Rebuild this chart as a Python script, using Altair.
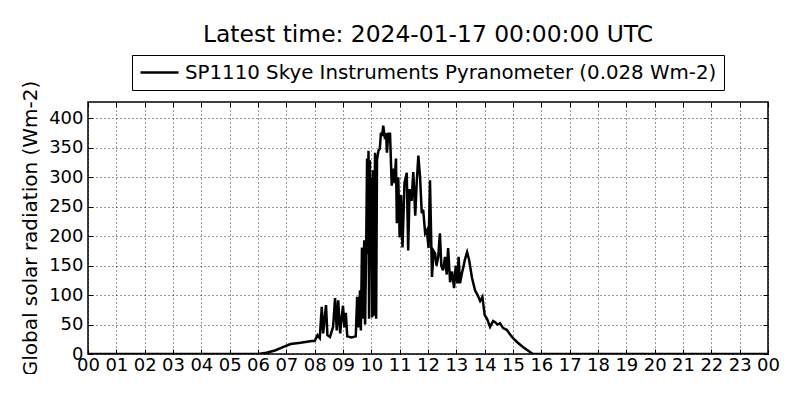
import altair as alt
import pandas as pd

hours = [0.0, 6.0, 6.3, 6.6, 6.9, 7.15, 7.5, 7.9, 8.0, 8.1, 8.18, 8.25, 8.3, 8.4, 8.45,
         8.54, 8.65, 8.72, 8.78, 8.83, 8.9, 8.95, 9.0, 9.05, 9.1, 9.15, 9.3, 9.45, 9.5,
         9.55, 9.6, 9.63, 9.67, 9.7, 9.75, 9.78, 9.82, 9.85, 9.87, 9.9, 9.92, 9.95, 9.98,
         10.0, 10.03, 10.06, 10.1, 10.13, 10.17, 10.2, 10.25, 10.3, 10.34, 10.38, 10.42,
         10.47, 10.52, 10.55, 10.6, 10.66, 10.72, 10.77, 10.82, 10.87, 10.9, 10.95, 11.0,
         11.05, 11.1, 11.17, 11.25, 11.3, 11.35, 11.42, 11.48, 11.55, 11.6, 11.66, 11.72,
         11.78, 11.83, 11.9, 11.96, 12.02, 12.07, 12.14, 12.2, 12.25, 12.3, 12.36, 12.42,
         12.47, 12.53, 12.6, 12.66, 12.71, 12.78, 12.85, 12.92, 12.98, 13.04, 13.08, 13.13,
         13.2, 13.25, 13.3, 13.38, 13.45, 13.55, 13.66, 13.75, 13.84, 13.92, 14.0, 14.08,
         14.19, 14.3, 14.37, 14.45, 14.54, 14.65, 14.78, 14.9, 15.0, 15.15, 15.35, 15.55,
         15.7, 24.0]
radiation = [0, 0, 2, 6, 12, 17, 19, 22, 22, 32, 27, 80, 35, 83, 32,
             29, 46, 95, 40, 91, 35, 60, 82, 45, 70, 30, 28, 30, 97,
             45, 108, 40, 181, 60, 193, 50, 190, 332, 170, 345, 60, 329, 170,
             300, 62, 312, 65, 342, 60, 330, 345, 349, 376, 370, 388,
             370, 375, 342, 374, 374, 286, 315, 290, 332, 222, 300, 198,
             270, 181, 290, 308, 176, 280, 260, 309, 235, 290, 337, 300,
             239, 245, 205, 210, 180, 295, 131, 175, 171, 150, 165, 205,
             150, 142, 165, 135, 180, 122, 140, 112, 150, 120, 165, 120,
             138, 148, 160, 173, 160, 130, 108, 100, 90, 97, 66, 60,
             46, 56, 54, 50, 52, 44, 41, 33, 27, 20, 12, 5,
             0, 0]

series_name = "SP1110 Skye Instruments Pyranometer (0.028 Wm-2)"
x_ticks = list(range(0, 25))
y_ticks = [0, 50, 100, 150, 200, 250, 300, 350, 400]

df = pd.DataFrame({"hour": hours, "value": radiation, "series": series_name})

FONT = "DejaVu Sans"
xscale = alt.Scale(domain=[0, 24], nice=False, zero=False)
yscale = alt.Scale(domain=[0, 428], nice=False)

main = alt.Chart(df).mark_line(color="black", strokeWidth=2.5, clip=True).encode(
    x=alt.X("hour:Q", scale=xscale,
            axis=alt.Axis(values=x_ticks, title=None, orient="bottom",
                          labelExpr="datum.value == 24 ? '00' : (datum.value < 10 ? '0' + datum.value : '' + datum.value)",
                          labelFontSize=18, labelPadding=2, labelFlush=False,
                          grid=True, ticks=True, tickSize=5, offset=-5)),
    y=alt.Y("value:Q", scale=yscale,
            axis=alt.Axis(values=y_ticks, title="Global solar radiation (Wm-2)", orient="left",
                          titleFontSize=20, titlePadding=8,
                          labelFontSize=18, labelPadding=5,
                          grid=True, ticks=True, tickSize=5, offset=-5)),
    color=alt.Color("series:N", scale=alt.Scale(domain=[series_name], range=["black"]),
                    legend=alt.Legend(title=None, orient="none", legendX=44, legendY=-47,
                                      symbolType="stroke", symbolStrokeWidth=2.5, symbolSize=1444,
                                      clipHeight=21,
                                      labelFontSize=19.8, labelLimit=0, labelFont=FONT,
                                      strokeColor="black", fillColor="white", padding=7,
                                      labelColor="black", labelOffset=5)),
)

frame_ticks = alt.Chart(df).mark_line(opacity=0).encode(
    x=alt.X("hour:Q", scale=xscale,
            axis=alt.Axis(values=x_ticks, title=None, orient="top", labels=False,
                          grid=False, ticks=True, tickSize=5, offset=-5)),
    y=alt.Y("value:Q", scale=yscale,
            axis=alt.Axis(values=y_ticks, title=None, orient="right", labels=False,
                          grid=False, ticks=True, tickSize=5, offset=-5)),
)

chart = alt.layer(main, frame_ticks).resolve_axis(
    x="independent", y="independent"
).properties(
    width=680, height=252,
    title=alt.TitleParams("Latest time: 2024-01-17 00:00:00 UTC", fontSize=23.4, font=FONT,
                          fontWeight="normal", anchor="middle", frame="group", offset=-11,
                          baseline="alphabetic", color="black"),
    padding={"left": 80, "top": 94, "right": 20, "bottom": 20},
    autosize=alt.AutoSizeParams(type="none"),
).configure_axis(
    labelFont=FONT, titleFont=FONT, labelColor="black", titleColor="black",
    titleFontWeight="normal", gridColor="black", gridDash=[1, 3], gridOpacity=0.8,
    domain=False, tickColor="black", tickWidth=1,
).configure_view(
    stroke="black", strokeWidth=1.5,
)

chart.save("out.html", embed_options={"renderer": "svg", "actions": False})
